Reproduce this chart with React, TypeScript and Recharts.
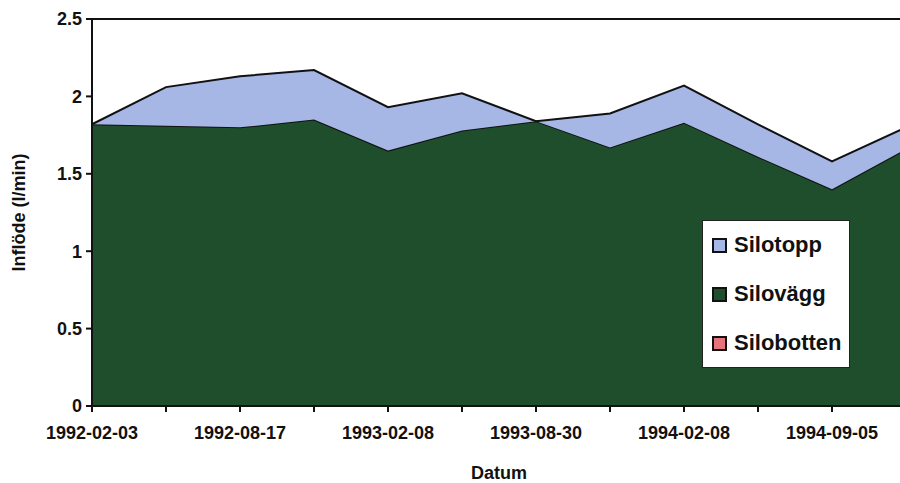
import React from "react";
import { Area, AreaChart, ReferenceLine, XAxis, YAxis } from "recharts";

// Mätdatum (varannan etikett visas på axeln)
const dates = [
  "1992-02-03",
  "1992-05-11",
  "1992-08-17",
  "1992-11-16",
  "1993-02-08",
  "1993-05-17",
  "1993-08-30",
  "1993-11-22",
  "1994-02-08",
  "1994-05-16",
  "1994-09-05",
  "1994-12-05",
];

// Inflöde i l/min per del av silon
const silobotten = [0, 0, 0, 0, 0, 0, 0, 0, 0, 0, 0, 0];
const silovagg = [1.82, 1.81, 1.8, 1.85, 1.65, 1.78, 1.84, 1.67, 1.83, 1.61, 1.4, 1.66];
const silotopp = [0, 0.25, 0.33, 0.32, 0.28, 0.24, 0, 0.22, 0.24, 0.21, 0.18, 0.14];

const yTicks = [0, 0.5, 1, 1.5, 2, 2.5];

// Ordning i förklaringsrutan
const legendNames = ["Silotopp", "Silovägg", "Silobotten"];

const data = dates.map((d, i) => ({
  datum: d,
  Silobotten: silobotten[i],
  Silovägg: silovagg[i],
  Silotopp: silotopp[i],
}));

const FONT = '"Liberation Sans", Arial, sans-serif';
const COLORS: Record<string, string> = {
  Silotopp: "#a6b7e6",
  Silovägg: "#1f4e2c",
  Silobotten: "#e8737c",
};

function DateTick(props: any) {
  const { x, y, payload, index } = props;
  if (index % 2 !== 0) return null;
  return (
    <text
      x={x}
      y={y}
      dy="0.71em"
      textAnchor="middle"
      fontFamily={FONT}
      fontWeight="bold"
      fontSize={18}
      fill="#111"
    >
      {payload.value}
    </text>
  );
}

function LegendBox() {
  return (
    <div
      style={{
        position: "absolute",
        left: 702,
        top: 220,
        width: 146,
        height: 146,
        background: "#fff",
        border: "1px solid #222",
        fontFamily: FONT,
        fontWeight: "bold",
        fontSize: 22,
        color: "#111",
      }}
    >
      {legendNames.map((name, i) => (
        <div
          key={name}
          style={{
            position: "absolute",
            left: 9,
            top: 11 + i * 49,
            display: "flex",
            alignItems: "center",
            whiteSpace: "nowrap",
          }}
        >
          <span
            style={{
              display: "inline-block",
              width: 11,
              height: 11,
              background: COLORS[name],
              border: "2px solid #111",
              marginRight: 7,
            }}
          />
          {name}
        </div>
      ))}
    </div>
  );
}

export default function App() {
  return (
    <div
      style={{
        position: "absolute",
        left: 0,
        top: 0,
        width: 900,
        height: 483,
        overflow: "hidden",
        background: "#fff",
      }}
    >
      <AreaChart
        width={920}
        height={483}
        data={data}
        margin={{ top: 19, right: 14, bottom: 0, left: 0 }}
      >
        <XAxis
          dataKey="datum"
          interval={0}
          height={77}
          tick={<DateTick />}
          tickSize={6}
          tickMargin={14}
          axisLine={{ stroke: "#111", strokeWidth: 2 }}
          tickLine={{ stroke: "#111", strokeWidth: 2 }}
          label={{
            content: (p: any) => (
              <text
                x={p.viewBox.x + p.viewBox.width / 2}
                y={p.viewBox.y + 73}
                textAnchor="middle"
                fontFamily={FONT}
                fontWeight="bold"
                fontSize={18}
                fill="#111"
              >
                Datum
              </text>
            ),
          }}
        />
        <YAxis
          width={92}
          domain={[0, 2.5]}
          ticks={yTicks}
          interval={0}
          tickSize={6}
          tickMargin={4}
          axisLine={{ stroke: "#111", strokeWidth: 2 }}
          tickLine={{ stroke: "#111", strokeWidth: 2 }}
          tick={{
            fill: "#111",
            fontFamily: FONT,
            fontWeight: "bold",
            fontSize: 18,
          }}
          label={{
            content: (p: any) => {
              const cx = p.viewBox.x + 19;
              const cy = p.viewBox.y + p.viewBox.height / 2;
              return (
                <text
                  x={cx}
                  y={cy}
                  transform={`rotate(-90 ${cx} ${cy})`}
                  textAnchor="middle"
                  dominantBaseline="central"
                  fontFamily={FONT}
                  fontWeight="bold"
                  fontSize={18}
                  fill="#111"
                >
                  Inflöde (l/min)
                </text>
              );
            },
          }}
        />
        <Area
          type="linear"
          dataKey="Silobotten"
          stackId="1"
          fill={COLORS.Silobotten}
          fillOpacity={1}
          stroke="#111"
          strokeWidth={2}
          isAnimationActive={false}
        />
        <Area
          type="linear"
          dataKey="Silovägg"
          stackId="1"
          fill={COLORS.Silovägg}
          fillOpacity={1}
          stroke="#111"
          strokeWidth={2}
          isAnimationActive={false}
        />
        <Area
          type="linear"
          dataKey="Silotopp"
          stackId="1"
          fill={COLORS.Silotopp}
          fillOpacity={1}
          stroke="#111"
          strokeWidth={2}
          isAnimationActive={false}
        />
        <ReferenceLine y={2.5} stroke="#111" strokeWidth={2} />
      </AreaChart>
      <LegendBox />
    </div>
  );
}
